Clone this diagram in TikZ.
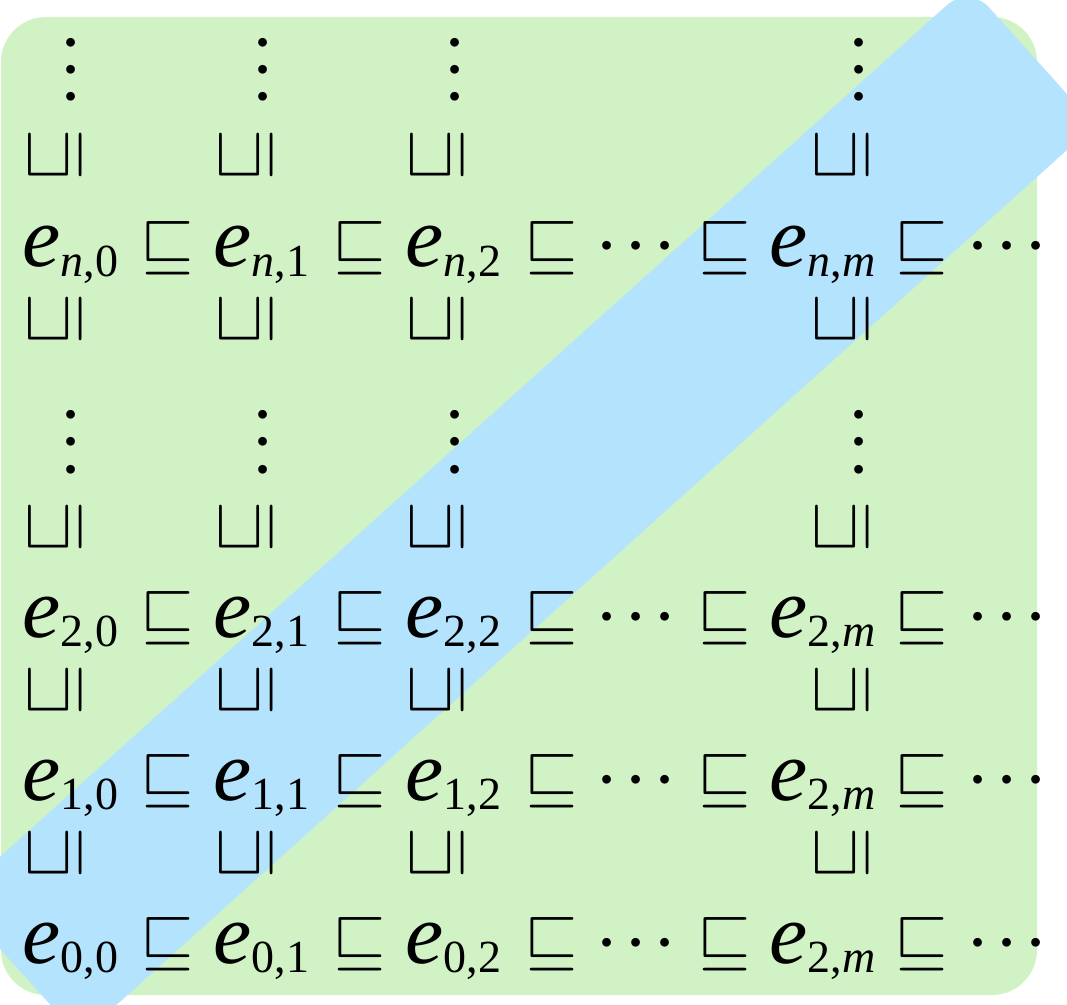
\documentclass[tikz,border=0pt]{standalone}
\usepackage{fontspec}
\setmainfont{Liberation Serif}
\definecolor{Field}{HTML}{D0F2C5}
\definecolor{Band}{HTML}{B3E3FD}
\newcommand{\elem}[1]{\textit{e}\raisebox{-2.3pt}{\fontsize{11.5}{13}\selectfont #1}}
\newcommand{\hdts}{${\cdot}\mkern1.3mu{\cdot}\mkern1.3mu{\cdot}$}
\newcommand{\vdts}{\vbox{\baselineskip=6.8pt\lineskiplimit=-\maxdimen
  \hbox{${\cdot}$}\hbox{${\cdot}$}\hbox{${\cdot}$}}}
\tikzset{
  band/.style={fill=Band,rotate=41.97,minimum width=341.25pt,minimum height=47pt,rounded corners=7.5pt,inner sep=0pt},
  entry/.style={inner sep=0pt,anchor=base west,font=\fontsize{21.5}{26}\selectfont},
  rel/.style={inner sep=0pt,font=\fontsize{17}{20}\selectfont},
  relup/.style={rel,rotate=90},
  hdotsbox/.style={inner sep=0pt,anchor=base west,font=\fontsize{20}{24}\selectfont},
  vdotsbox/.style={inner sep=0pt,anchor=base,font=\fontsize{20}{24}\selectfont}
}
\begin{document}
\begin{tikzpicture}[x=0.25pt,y=-0.25pt]
  \useasboundingbox (0,0) rectangle (1067,1004);
  \fill[Field,rounded corners=11.25pt] (1,17) rectangle (1037,995);
  \node[band] (diag) at (524.5,511.5) {};

  % rows of the lattice
  \node[entry] (en0) at (22,267) {\elem{\textit{n},0}};
  \node[entry] (en1) at (213,267) {\elem{\textit{n},1}};
  \node[entry] (en2) at (405,267) {\elem{\textit{n},2}};
  \node[entry] (enm) at (769,267) {\elem{\textit{n},\textit{m}}};
  \node[entry] (e20) at (22,637) {\elem{2,0}};
  \node[entry] (e21) at (213,637) {\elem{2,1}};
  \node[entry] (e22) at (405,637) {\elem{2,2}};
  \node[entry] (e2m) at (769,637) {\elem{2,\textit{m}}};
  \node[entry] (e10) at (22,800) {\elem{1,0}};
  \node[entry] (e11) at (213,800) {\elem{1,1}};
  \node[entry] (e12) at (405,800) {\elem{1,2}};
  \node[entry] (e1m) at (769,800) {\elem{2,\textit{m}}};
  \node[entry] (e00) at (22,963) {\elem{0,0}};
  \node[entry] (e01) at (213,963) {\elem{0,1}};
  \node[entry] (e02) at (405,963) {\elem{0,2}};
  \node[entry] (e0m) at (769,963) {\elem{2,\textit{m}}};

  % order along a row
  \foreach \y in {267,637,800,963} {
    \foreach \x in {167,359,551,724,921}
      \node[rel] (rel-\x-\y) at (\x,\y-19) {$\sqsubseteq$};
    \node[hdotsbox] (hd-a-\y) at (595,\y) {\hdts};
    \node[hdotsbox] (hd-b-\y) at (966,\y) {\hdts};
  }

  % order along a column
  \foreach \y in {156,320,528,691,854}
    \foreach \x in {55,246,437,842}
      \node[relup] (up-\x-\y) at (\x,\y) {$\sqsubseteq$};
  \foreach \y in {118,490}
    \foreach \x in {71,263,455,859}
      \node[vdotsbox] (vd-\x-\y) at (\x,\y) {\vdts};
\end{tikzpicture}
\end{document}
